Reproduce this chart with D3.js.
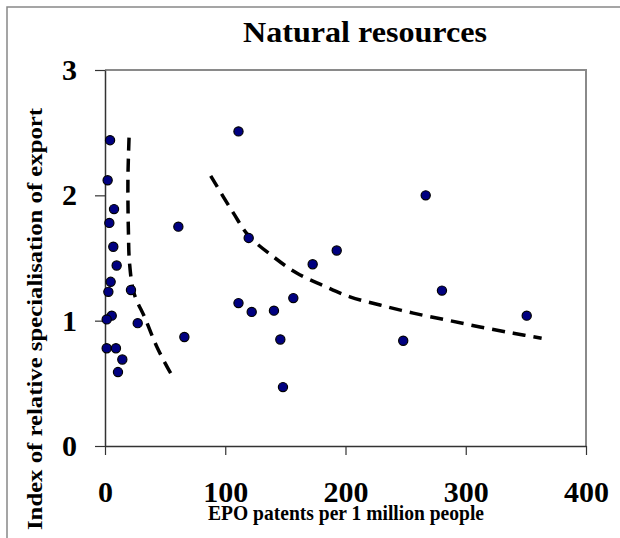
<!DOCTYPE html>
<html>
<head>
<meta charset="utf-8">
<script src="https://cdn.jsdelivr.net/npm/d3@7/dist/d3.min.js"></script>
<style>
  body { margin: 0; background: white; }
  text { font-family: "Liberation Serif", "Times New Roman", serif; font-weight: bold; }
</style>
</head>
<body>
<script>
const width = 620;
const height = 538;

// patents per million (x) vs export specialisation index (y)
const patents = [4.2, 2.2, 7.5, 3.6, 6.9, 9.7, 4.7, 2.8, 21.6, 5.6, 1.4, 27.2, 1.4, 9.1, 14.4, 10.8,
  61, 66, 111, 111, 122, 119.5, 266.7, 192.7, 172.7, 140.5, 156.6, 280.2, 350.7, 145.8, 248, 148];
const exportIndex = [2.44, 2.12, 1.89, 1.78, 1.59, 1.44, 1.31, 1.23, 1.245, 1.04, 1.01, 0.98, 0.78, 0.78, 0.69, 0.59,
  1.75, 0.87, 2.51, 1.14, 1.07, 1.66, 2.0, 1.56, 1.45, 1.08, 1.18, 1.24, 1.04, 0.85, 0.84, 0.47];

// dashed trend lines
const trend1X = [20.0, 19.1, 19.1, 19.5, 20.4, 24.1, 33.3, 43.2, 54.1, 58.2];
const trend1Y = [2.46, 2.16, 1.94, 1.70, 1.46, 1.22, 1.02, 0.79, 0.59, 0.53];
const trend2X = [87.9, 106.7, 119.2, 140, 159.4, 181.6, 203.7, 228.7, 256.4, 284.2, 311.9, 339.6, 363.1];
const trend2Y = [2.155, 1.86, 1.68, 1.51, 1.38, 1.28, 1.19, 1.125, 1.06, 1.005, 0.95, 0.90, 0.86];

const xTicks = [0, 100, 200, 300, 400];
const yTicks = [0, 1, 2, 3];

const plotLeft = 105, plotRight = 586, plotTop = 70, plotBottom = 446;

const svg = d3.select("body")
  .append("svg")
  .attr("width", width)
  .attr("height", height);

svg.append("rect")
  .attr("width", width)
  .attr("height", height)
  .attr("fill", "white");

// outer frame (only top and left visible)
svg.append("path")
  .attr("d", `M7,${height} L7,7 L${width},7`)
  .attr("fill", "none")
  .attr("stroke", "#888")
  .attr("stroke-width", 1.5);

const x = d3.scaleLinear().domain([0, 400]).range([plotLeft, plotRight]);
const y = d3.scaleLinear().domain([0, 3]).range([plotBottom, plotTop]);

// plot frame top and right in grey
svg.append("path")
  .attr("d", `M${plotLeft},${plotTop} L${plotRight},${plotTop} L${plotRight},${plotBottom}`)
  .attr("fill", "none")
  .attr("stroke", "#8a8a8a")
  .attr("stroke-width", 2);

const xAxis = svg.append("g")
  .attr("transform", `translate(0,${plotBottom})`)
  .call(d3.axisBottom(x).tickValues(xTicks).tickFormat(d3.format("d"))
    .tickSize(9).tickPadding(26).tickSizeOuter(0));

const yAxis = svg.append("g")
  .attr("transform", `translate(${plotLeft},0)`)
  .call(d3.axisLeft(y).tickValues(yTicks).tickFormat(d3.format("d"))
    .tickSize(10).tickPadding(18).tickSizeOuter(0));

[xAxis, yAxis].forEach(a => {
  a.select(".domain").attr("stroke", "#333").attr("stroke-width", 1.5);
  a.selectAll(".tick line").attr("stroke", "#333").attr("stroke-width", 1.2);
  a.selectAll(".tick text")
    .attr("font-family", "Liberation Serif")
    .attr("font-weight", "bold")
    .attr("font-size", 30)
    .attr("fill", "black");
});

// trend lines
const line = d3.line()
  .x(d => x(d[0]))
  .y(d => y(d[1]))
  .curve(d3.curveCatmullRom);

[[trend1X, trend1Y], [trend2X, trend2Y]].forEach(([tx, ty]) => {
  svg.append("path")
    .datum(tx.map((v, i) => [v, ty[i]]))
    .attr("d", line)
    .attr("fill", "none")
    .attr("stroke", "black")
    .attr("stroke-width", 3.5)
    .attr("stroke-dasharray", "13,8");
});

// points
svg.append("g")
  .selectAll("circle")
  .data(patents.map((v, i) => ({ px: v, ix: exportIndex[i] })))
  .enter()
  .append("circle")
  .attr("cx", d => x(d.px))
  .attr("cy", d => y(d.ix))
  .attr("r", 4.6)
  .attr("fill", "#000080")
  .attr("stroke", "black")
  .attr("stroke-width", 1.2);

// titles
svg.append("text")
  .attr("x", 365)
  .attr("y", 42)
  .attr("text-anchor", "middle")
  .attr("font-size", 30)
  .attr("textLength", 244)
  .attr("lengthAdjust", "spacingAndGlyphs")
  .text("Natural resources");

svg.append("text")
  .attr("x", 346)
  .attr("y", 520)
  .attr("text-anchor", "middle")
  .attr("font-size", 21)
  .attr("textLength", 276)
  .attr("lengthAdjust", "spacingAndGlyphs")
  .text("EPO patents per 1 million people");

svg.append("text")
  .attr("transform", "translate(42,319) rotate(-90)")
  .attr("text-anchor", "middle")
  .attr("font-size", 22)
  .attr("textLength", 422)
  .attr("lengthAdjust", "spacingAndGlyphs")
  .text("Index of relative specialisation of export");
</script>
</body>
</html>
